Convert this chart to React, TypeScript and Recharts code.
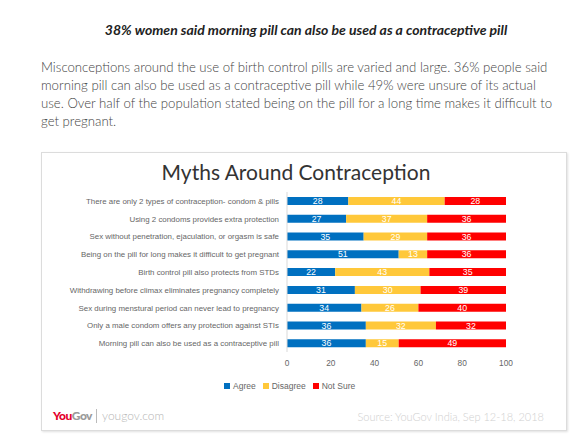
import React from 'react';
import {Bar, BarChart, LabelList, XAxis, YAxis} from "recharts";

const categories = [
    "There are only 2 types of contraception- condom & pills",
    "Using 2 condoms provides extra protection",
    "Sex without penetration, ejaculation, or orgasm is safe",
    "Being on the pill for long makes it difficult to get pregnant",
    "Birth control pill also protects from STDs",
    "Withdrawing before climax eliminates pregnancy completely",
    "Sex during menstural period can never lead to pregnancy",
    "Only a male condom offers any protection against STIs",
    "Morning pill can also be used as a contraceptive pill",
];
const agree = [28, 27, 35, 51, 22, 31, 34, 36, 36];
const disagree = [44, 37, 29, 13, 43, 30, 26, 32, 15];
const notSure = [28, 36, 36, 36, 35, 39, 40, 32, 49];
const xTicks = [0, 20, 40, 60, 80, 100];

const AGREE = "#0070C0";
const DISAGREE = "#FFC83A";
const NOT_SURE = "#FF0000";

const data = categories.map((name, i) => ({
    name,
    agree: agree[i],
    disagree: disagree[i],
    notSure: notSure[i],
}));

const legendItems = [
    {label: "Agree", color: AGREE},
    {label: "Disagree", color: DISAGREE},
    {label: "Not Sure", color: NOT_SURE},
];

const FONT = "Liberation Sans, Arial, sans-serif";

// single-line category labels, no wrapping
function CategoryTick({x, y, payload}: any) {
    return (
        <text x={x} y={y} dy={3} textAnchor="end" fontSize={7.9} fill="#666" fontFamily={FONT}>
            {payload.value}
        </text>
    );
}

function App(): React.ReactElement {
    const tickFont = {fontSize: 8.3, fill: "#666", fontFamily: FONT};
    const labelStyle = {fontSize: 8.8, fill: "#ffffff", fontFamily: FONT};
    return (
        <div style={{position: "fixed", left: 0, top: 0, width: 575, height: 442, background: "#fff", fontFamily: "Lato, sans-serif", overflow: "hidden"}}>
            <div style={{position: "absolute", left: 0, width: 612, top: 21, textAlign: "center", fontSize: 14, fontWeight: 700, fontStyle: "italic", color: "#222", lineHeight: "18px", whiteSpace: "nowrap"}}>
                38% women said morning pill can also be used as a contraceptive pill
            </div>
            <div style={{position: "absolute", left: 41, top: 58, width: 530, fontSize: 13.2, fontWeight: 300, color: "#444", lineHeight: "18px", whiteSpace: "nowrap"}}>
                <div>Misconceptions around the use of birth control pills are varied and large. 36% people said</div>
                <div>morning pill can also be used as a contraceptive pill while 49% were unsure of its actual</div>
                <div>use. Over half of the population stated being on the pill for a long time makes it difficult to</div>
                <div>get pregnant.</div>
            </div>
            <div style={{position: "absolute", left: 41, top: 152, width: 524, height: 277, border: "1px solid #dcdcdc", boxShadow: "1px 1px 2px rgba(0,0,0,0.12)"}}>
                <div style={{position: "absolute", left: 0, width: 508, top: 6, textAlign: "center", fontSize: 21, color: "#333", lineHeight: "26px"}}>
                    Myths Around Contraception
                </div>
                <div style={{position: "absolute", left: 0, top: 32}}>
                    <BarChart
                        width={524}
                        height={190}
                        data={data}
                        layout="vertical"
                        margin={{top: 7, right: 60, bottom: 0, left: 0}}
                        barSize={8}
                    >
                        <XAxis
                            type="number"
                            domain={[0, 100]}
                            ticks={xTicks}
                            interval={0}
                            axisLine={false}
                            tickLine={false}
                            tick={tickFont}
                            height={23}
                        />
                        <YAxis
                            type="category"
                            dataKey="name"
                            width={245}
                            interval={0}
                            tickLine={false}
                            axisLine={{stroke: "#d9d9d9"}}
                            tick={<CategoryTick/>}
                        />
                        <Bar dataKey="agree" stackId="a" fill={AGREE} isAnimationActive={false}>
                            <LabelList dataKey="agree" position="center" style={labelStyle}/>
                        </Bar>
                        <Bar dataKey="disagree" stackId="a" fill={DISAGREE} isAnimationActive={false}>
                            <LabelList dataKey="disagree" position="center" style={labelStyle}/>
                        </Bar>
                        <Bar dataKey="notSure" stackId="a" fill={NOT_SURE} isAnimationActive={false}>
                            <LabelList dataKey="notSure" position="center" style={labelStyle}/>
                        </Bar>
                    </BarChart>
                </div>
                <div style={{position: "absolute", left: 182, top: 228, display: "flex", gap: 7, fontSize: 8.5, color: "#666", fontFamily: FONT}}>
                    {legendItems.map(item => (
                        <div key={item.label} style={{display: "flex", alignItems: "center", gap: 3}}>
                            <span style={{width: 6, height: 6, background: item.color, display: "inline-block"}}></span>
                            <span>{item.label}</span>
                        </div>
                    ))}
                </div>
                <div style={{position: "absolute", left: 11, top: 255, display: "flex", alignItems: "center", fontSize: 12}}>
                    <span style={{fontWeight: 900, color: "#e4002b", letterSpacing: -0.5}}>You</span>
                    <span style={{fontWeight: 900, color: "#9a9a9a", letterSpacing: -0.5}}>Gov</span>
                    <span style={{width: 1, height: 14, background: "#bbb", margin: "0 5px 0 4px"}}></span>
                    <span style={{color: "#b5b5b5", fontWeight: 300}}>yougov.com</span>
                </div>
                <div style={{position: "absolute", right: 22, top: 257, fontSize: 11, color: "#d0d0d0", fontWeight: 300}}>
                    Source: YouGov India, Sep 12-18, 2018
                </div>
            </div>
        </div>
    );
}

export default App;
